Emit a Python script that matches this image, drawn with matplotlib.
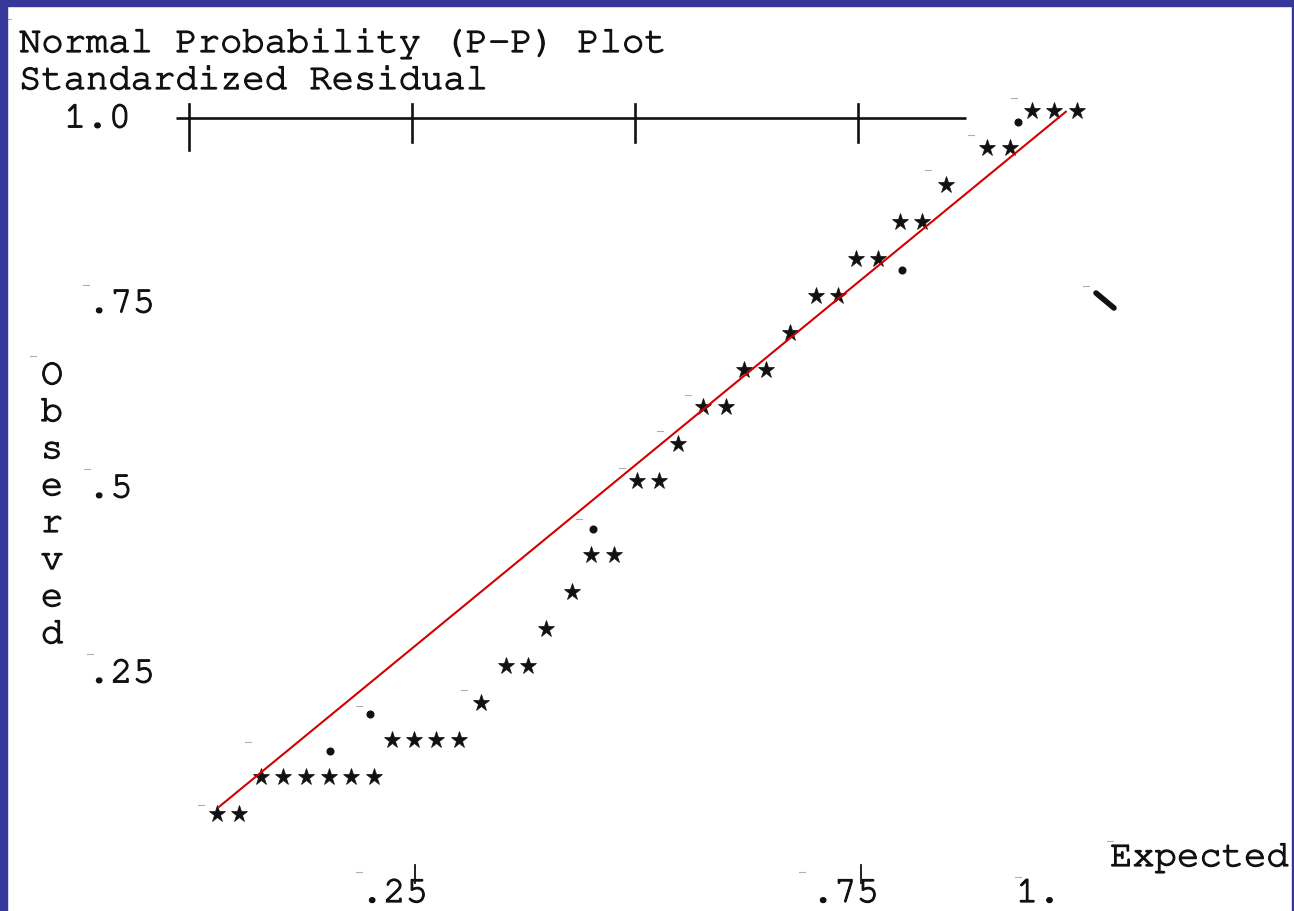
import matplotlib
matplotlib.use("Agg")
import matplotlib.pyplot as plt
import matplotlib.patheffects as pe
from matplotlib import font_manager
from matplotlib.patches import Rectangle

# observed cumulative probability of each printed row, and the expected
# probabilities of the '*' marks on that row
row_observed = [1.00, 0.95, 0.90, 0.85, 0.80, 0.75, 0.70, 0.65, 0.60, 0.55,
                0.50, 0.40, 0.35, 0.30, 0.25, 0.20, 0.15, 0.10, 0.05]
row_expected = [
    [0.945, 0.970, 0.995],
    [0.895, 0.920],
    [0.849],
    [0.797, 0.822],
    [0.748, 0.772],
    [0.703, 0.728],
    [0.674],
    [0.622, 0.647],
    [0.576, 0.602],
    [0.548],
    [0.502, 0.527],
    [0.451, 0.476],
    [0.429],
    [0.400],
    [0.355, 0.380],
    [0.327],
    [0.228, 0.252, 0.277, 0.303],
    [0.081, 0.105, 0.131, 0.157, 0.182, 0.207],
    [0.031, 0.056],
]

# '.' marks of the printed reference diagonal
dot_expected = [0.929, 0.799, 0.453, 0.203, 0.158]
dot_observed = [1.00, 0.80, 0.45, 0.20, 0.15]

# fitted diagonal drawn over the printout
line_x = [0.034, 0.983]
line_y = [0.060, 0.999]

y_ticks = [1.0, 0.75, 0.5, 0.25]
y_tick_labels = ["1.0", ".75", ".5", ".25"]
x_ticks = [0.25, 0.75, 1.0]
x_tick_labels = [".25", ".75", "1."]
top_ticks = [0.0, 0.25, 0.5, 0.75]

title_lines = ["Normal Probability (P-P) Plot", "Standardized Residual"]
y_title = "Observed"
x_title = "Expected"

# page geometry (pixels of the scanned sheet)
W, H = 1294, 912
X0, XSCALE = 189, 892      # pixel of expected = 0, pixels per unit
Y0, YSCALE = 852, 740      # pixel of observed = 0, pixels per unit


def px(x, y):
    return (x - X0) / XSCALE, (Y0 - y) / YSCALE


def pick_mono():
    names = {f.name for f in font_manager.fontManager.ttflist}
    for name in ["Courier New", "Courier", "Nimbus Mono PS", "FreeMono",
                 "Liberation Mono", "DejaVu Sans Mono"]:
        if name in names:
            return name
    return "monospace"


MONO = pick_mono()
FS = 26.8
INK = "#111111"
# printed type is a little heavier than the font outline
INKED = [pe.withStroke(linewidth=0.9, foreground=INK)]

fig = plt.figure(figsize=(W / 100, H / 100), dpi=100, facecolor="white")
ax = fig.add_axes([0, 0, 1, 1])
ax.set_xlim(-X0 / XSCALE, (W - X0) / XSCALE)
ax.set_ylim((Y0 - H) / YSCALE, Y0 / YSCALE)
ax.axis("off")


def type_text(x, y, s, **kw):
    ax.text(x, y, s, family=MONO, fontsize=FS, color=INK, va="baseline",
            path_effects=INKED, **kw)


# blue frame round the sheet
frame = "#37379a"
fig.patches.append(Rectangle((0, 1 - 7 / H), 1, 7 / H, transform=fig.transFigure,
                             color=frame, zorder=10))
fig.patches.append(Rectangle((0, 0), 7 / W, 1, transform=fig.transFigure,
                             color=frame, zorder=10))
fig.patches.append(Rectangle((1 - 2 / W, 0), 2 / W, 1, transform=fig.transFigure,
                             color=frame, zorder=10))

# titles
for i, line in enumerate(title_lines):
    x, y = px(19, 53 + 37 * i)
    type_text(x, y, line)

# top axis rule with '+' ticks
yl = px(0, 119)[1]
ax.plot([px(176, 0)[0], px(966, 0)[0]], [yl, yl], color=INK, lw=1.9,
        solid_capstyle="butt")
for t in top_ticks:
    bottom = px(0, 151 if t == 0 else 143)[1]
    ax.plot([t, t], [px(0, 105)[1], bottom], color=INK, lw=1.9)

# y tick labels
for v, lab in zip(y_ticks, y_tick_labels):
    x = px(64 if lab == "1.0" else 88, 0)[0]
    type_text(x, v - 0.022, lab)

# vertical y title
for k, ch in enumerate(y_title):
    x, y = px(52, 385 + 37 * k)
    type_text(x, y, ch, ha="center")

# x tick labels with the short tick strokes
for v, lab in zip(x_ticks, x_tick_labels):
    x = px(361 if lab == ".25" else (812 if lab == ".75" else 1016), 0)[0]
    type_text(x, px(0, 903)[1], lab)
    if v < 1.0:
        ax.plot([v + 0.003, v + 0.003], [px(0, 866)[1], px(0, 884)[1]],
                color=INK, lw=1.3)

x, y = px(1110, 867)
type_text(x, y, x_title)

# observed points
xs = [e for row in row_expected for e in row]
ys = [o for o, row in zip(row_observed, row_expected) for _ in row]
ax.plot(xs, ys, ls="none", marker="*", ms=12.5, color=INK, mec=INK, mew=0.5,
        zorder=4)

# reference dots sit on the baseline of their row
ax.plot(dot_expected, [o - 0.015 for o in dot_observed], ls="none", marker="o",
        ms=4.8, color=INK, zorder=4)

# fitted line
ax.plot(line_x, line_y, color="#d40000", lw=1.5, zorder=5)

# stray pen stroke at the right margin
ax.plot([px(1096, 0)[0], px(1114, 0)[0]], [px(0, 294)[1], px(0, 309)[1]],
        color=INK, lw=4, solid_capstyle="round")

# faint scanner specks
specks = [(201, 806), (248, 743), (359, 707), (464, 691), (359, 873),
          (579, 520), (622, 469), (660, 432), (688, 396), (1014, 99),
          (971, 136), (928, 171), (1086, 287), (802, 873), (1018, 878),
          (1110, 842), (33, 357), (87, 470), (90, 655), (86, 286), (8, 20)]
for sx, sy in specks:
    a = px(sx - 3, sy)
    b = px(sx + 3, sy)
    ax.plot([a[0], b[0]], [a[1], b[1]], color="#b0b0b0", lw=0.8)

fig.savefig("out.png", dpi=100, facecolor="white")
